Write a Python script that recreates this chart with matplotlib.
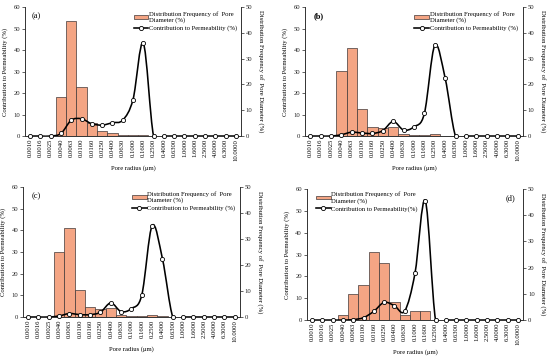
"""Pore radius distribution vs permeability contribution, four samples (a)-(d)."""

import matplotlib
matplotlib.use("Agg")
import matplotlib.pyplot as plt
from matplotlib.lines import Line2D
from matplotlib.patches import Patch, PathPatch
from matplotlib.path import Path

plt.rcParams["font.family"] = ["Liberation Serif", "DejaVu Serif"]

PORE_RADIUS = [
    "0.0010", "0.0016", "0.0025", "0.0040", "0.0063", "0.0100", "0.0160",
    "0.0250", "0.0400", "0.0630", "0.1000", "0.1600", "0.2500", "0.4000",
    "0.6300", "1.0000", "1.6000", "2.5000", "4.0000", "6.3000", "10.0000",
]

# distribution frequency of pore diameter (%), right axis
FREQ_A = [0, 0, 0, 15.2, 44.8, 19.1, 5.2, 1.9, 1.0, 0.5, 0.4, 0.4, 0, 0, 0, 0, 0, 0, 0, 0, 0]
FREQ_B = [0, 0, 0, 25.2, 34.3, 10.4, 3.7, 3.0, 3.4, 0.6, 0.3, 0.3, 0.6, 0.2, 0, 0, 0, 0, 0, 0, 0]
FREQ_C = [0, 0, 0, 25.2, 34.3, 10.4, 3.7, 3.0, 3.4, 0.6, 0.3, 0.3, 0.6, 0.2, 0, 0, 0, 0, 0, 0, 0]
FREQ_D = [0, 0, 0, 2.0, 9.9, 13.3, 25.8, 21.8, 6.8, 1.8, 3.4, 3.4, 0, 0, 0, 0, 0, 0, 0, 0, 0]

# contribution to permeability (%), left axis
PERM_A = [0, 0, 0, 1.2, 7.4, 8.0, 5.7, 5.1, 6.2, 7.4, 17.0, 43.3, 0, 0, 0, 0, 0, 0, 0, 0, 0]
PERM_B = [0, 0, 0, 0.6, 1.8, 1.4, 1.2, 2.5, 6.8, 2.8, 4.3, 10.5, 42.2, 27.0, 0, 0, 0, 0, 0, 0, 0]
PERM_C = [0, 0, 0, 0.5, 1.6, 1.1, 1.1, 2.2, 6.5, 2.5, 3.9, 10.2, 42.2, 26.8, 0, 0, 0, 0, 0, 0, 0]
PERM_D = [0, 0, 0, 0, 0.2, 1.1, 4.0, 8.1, 6.6, 4.1, 21.4, 54.7, 0, 0, 0, 0, 0, 0, 0, 0, 0]

BAR_COLOR = "#F4A584"
BAR_EDGE = "#403838"
FS = 4.8

FREQ_LABEL = "Distribution Frequency of  Pore\nDiameter (%)"


def _smooth_path(x, y):
    # Excel-style smoothed line: Catmull-Rom segments as cubic Beziers
    n = len(x)
    verts = [(x[0], y[0])]
    codes = [Path.MOVETO]
    for i in range(n - 1):
        p0 = (x[max(i - 1, 0)], y[max(i - 1, 0)])
        p1 = (x[i], y[i])
        p2 = (x[i + 1], y[i + 1])
        p3 = (x[min(i + 2, n - 1)], y[min(i + 2, n - 1)])
        c1 = (p1[0] + (p2[0] - p0[0]) / 6, p1[1] + (p2[1] - p0[1]) / 6)
        c2 = (p2[0] - (p3[0] - p1[0]) / 6, p2[1] - (p3[1] - p1[1]) / 6)
        verts += [c1, c2, p2]
        codes += [Path.CURVE4] * 3
    return Path(verts, codes)


def draw_panel(fig, rect, freq, perm, tag, perm_label, legend_at, tag_at, tag_bold=False):
    ax = fig.add_axes(rect)
    axr = ax.twinx()
    x = list(range(len(PORE_RADIUS)))

    axr.bar(x, freq, width=1.0, color=BAR_COLOR, edgecolor=BAR_EDGE, linewidth=0.5)
    ax.add_patch(PathPatch(_smooth_path(x, perm), facecolor="none", edgecolor="black",
                           linewidth=1.15, zorder=3))
    ax.plot(x, perm, linestyle="none", marker="o", markersize=3.0, markerfacecolor="white",
            markeredgecolor="black", markeredgewidth=0.6, zorder=4, clip_on=False)

    ax.set_zorder(axr.get_zorder() + 1)
    ax.patch.set_visible(False)

    ax.set_xlim(-0.5, len(PORE_RADIUS) - 0.5)
    ax.set_ylim(0, 60)
    axr.set_ylim(0, 50)
    ax.set_yticks(range(0, 61, 10))
    axr.set_yticks(range(0, 51, 10))
    ax.set_xticks(x)
    ax.set_xticklabels(PORE_RADIUS, rotation=90)

    for a in (ax, axr):
        a.spines["top"].set_visible(False)
        for s in a.spines.values():
            s.set_linewidth(0.6)
            s.set_color("#333333")
        a.tick_params(axis="y", labelsize=FS, length=2, width=0.5, pad=1.5, colors="#222222")
    ax.tick_params(axis="x", labelsize=FS, length=0, pad=2)

    ax.set_xlabel("Pore radius (\u03bcm)", fontsize=FS, labelpad=3)
    ax.set_ylabel("Contribution to Permeability (%)", fontsize=FS, labelpad=4)
    axr.set_ylabel("Distribution Frequency of  Pore Diameter (%)", fontsize=FS,
                   rotation=270, labelpad=8)

    handles = [
        Patch(facecolor=BAR_COLOR, edgecolor=BAR_EDGE, linewidth=0.5),
        Line2D([], [], color="black", linewidth=1.15, marker="o", markersize=3.0,
               markerfacecolor="white", markeredgecolor="black", markeredgewidth=0.6),
    ]
    ax.legend(handles, [FREQ_LABEL, perm_label], loc="upper left", bbox_to_anchor=legend_at,
              fontsize=FS, frameon=False, handlelength=2.2, handleheight=0.5,
              handletextpad=0.1, borderaxespad=0, labelspacing=0.3)

    ax.text(tag_at[0], tag_at[1], tag, transform=ax.transAxes, fontsize=6,
            fontweight="bold" if tag_bold else "normal", va="center", ha="left")


def main():
    fig = plt.figure(figsize=(5.5, 3.58), dpi=100)
    draw_panel(fig, (0.0455, 0.620, 0.3927, 0.360), FREQ_A, PERM_A, "(a)",
               "Contribution to Permeability (%)", (0.49, 0.99), (0.03, 0.93))
    draw_panel(fig, (0.5545, 0.620, 0.3964, 0.360), FREQ_B, PERM_B, "(b)",
               "Contribution to Permeability (%)", (0.49, 0.99), (0.04, 0.93), tag_bold=True)
    draw_panel(fig, (0.0418, 0.1145, 0.3945, 0.363), FREQ_C, PERM_C, "(c)",
               "Contribution to Permeability (%)", (0.49, 0.99), (0.04, 0.93))
    draw_panel(fig, (0.558, 0.106, 0.393, 0.366), FREQ_D, PERM_D, "(d)",
               "Contribution to Permeability(%)", (0.03, 1.0), (0.92, 0.93))
    fig.savefig("out.png", dpi=100, facecolor="white")
    plt.close(fig)


if __name__ == "__main__":
    main()
